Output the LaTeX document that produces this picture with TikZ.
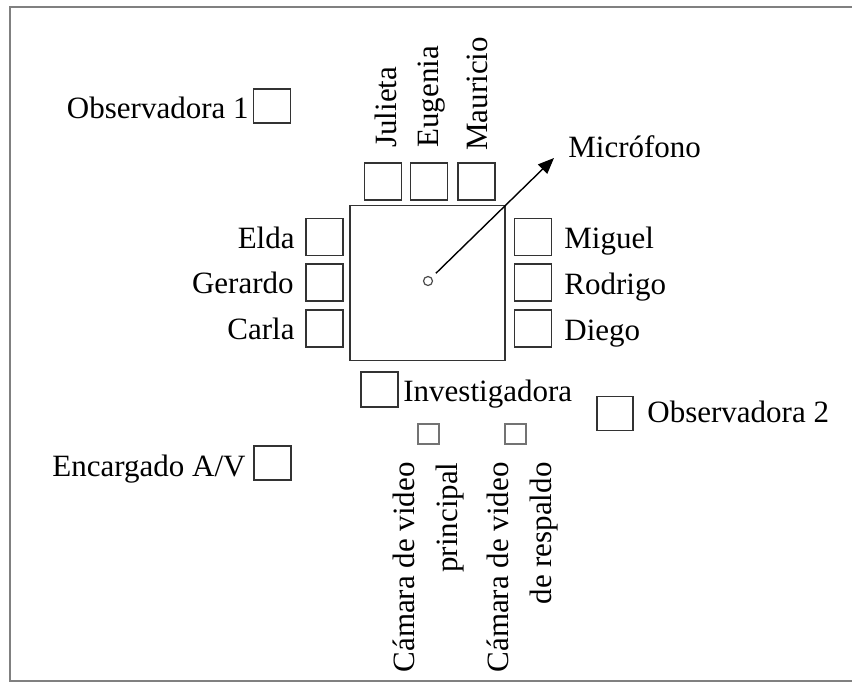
\documentclass[tikz,border=0pt]{standalone}
\usepackage{fontspec}
\setmainfont{Liberation Serif}
\usetikzlibrary{arrows.meta,positioning}

\begin{document}
\begin{tikzpicture}
    [x=0.5pt,y=-0.5pt,
     seat/.style={shape=rectangle,draw=black!80,line width=0.8pt,minimum width=18.5pt,minimum height=18.5pt,inner sep=0pt},
     observer/.style={seat,minimum height=17pt},
     camera/.style={shape=rectangle,draw=black!55,line width=0.8pt,minimum width=10.5pt,minimum height=10pt,inner sep=0pt},
     who/.style={inner sep=0pt,font=\fontsize{15.5}{21.5}\selectfont},
     micarrow/.style={-{Triangle[length=8pt,width=6.5pt]},line width=0.7pt,shorten <=3pt}]
    \useasboundingbox (0,0) rectangle (852,682);
    % frame, open on the right
    \draw [gray,line width=1pt] (870,6.5) -- (10,6.5) -- (10,681) -- (870,681);
    % table and microphone
    \node [shape=rectangle,draw=black!80,line width=0.7pt,minimum size=77.5pt,inner sep=0pt] (table) at (427.5,283) {};
    \node [shape=circle,draw=black!70,line width=0.6pt,minimum size=4.5pt,inner sep=0pt] (mic) at (428,281) {};
    \coordinate (mictip) at (554,158);
    \draw [micarrow] (mic) -- (mictip);
    \node [who,anchor=base west] (mic-t) at (568,157) {Micrófono};
    % top side
    \node [seat] (julieta) at (383,181.5) {};
    \node [seat] (eugenia) at (429,181.5) {};
    \node [seat] (mauricio) at (476.5,181.5) {};
    \node [who,rotate=90,anchor=base west] (julieta-t) at (396,148) {Julieta};
    \node [who,rotate=90,anchor=base west] (eugenia-t) at (438,148) {Eugenia};
    \node [who,rotate=90,anchor=base west] (mauricio-t) at (487,151) {Mauricio};
    % left side
    \node [seat] (elda) at (324.5,237) {};
    \node [seat] (gerardo) at (324.5,282.5) {};
    \node [seat] (carla) at (324.5,328.5) {};
    \node [who,anchor=base east] (elda-t) at (295,248) {Elda};
    \node [who,anchor=base east] (gerardo-t) at (294,293) {Gerardo};
    \node [who,anchor=base east] (carla-t) at (295,339) {Carla};
    % right side
    \node [seat] (miguel) at (533,237) {};
    \node [seat] (rodrigo) at (533,282.5) {};
    \node [seat] (diego) at (533,328.5) {};
    \node [who,anchor=base west] (miguel-t) at (564,248) {Miguel};
    \node [who,anchor=base west] (rodrigo-t) at (564,294) {Rodrigo};
    \node [who,anchor=base west] (diego-t) at (564,340) {Diego};
    % researcher and observers
    \node [seat,minimum height=17.5pt] (inv) at (379.5,389.5) {};
    \node [who,anchor=base west] (inv-t) at (403,401) {Investigadora};
    \node [observer] (obs1) at (272,106) {};
    \node [who,anchor=base east] (obs1-t) at (249,118) {Observadora 1};
    \node [observer,minimum width=18pt] (obs2) at (615,413.5) {};
    \node [who,anchor=base west] (obs2-t) at (647,422) {Observadora 2};
    \node [observer] (av) at (272.5,463) {};
    \node [who,anchor=base east] (av-t) at (246,476) {Encargado A/V};
    % cameras
    \node [camera] (cam1) at (428.5,434) {};
    \node [camera] (cam2) at (515.5,434) {};
    \node [who,rotate=90,align=right,anchor=north east] (cam1-t) at (393,462) {Cámara de video\\principal};
    \node [who,rotate=90,align=right,anchor=north east] (cam2-t) at (487,462) {Cámara de video\\de respaldo};
\end{tikzpicture}
\end{document}
